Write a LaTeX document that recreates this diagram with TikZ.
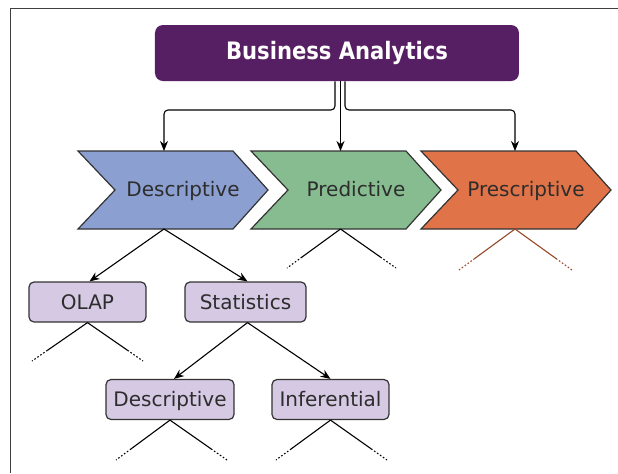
\documentclass[tikz,border=0pt]{standalone}
\usepackage{fontspec}
\setmainfont{DejaVu Sans}
\newfontfamily\headfont[FakeStretch=0.88]{DejaVu Sans}
\usetikzlibrary{calc, arrows.meta}
\definecolor{bapurple}{RGB}{87,31,99}
\definecolor{chevblue}{RGB}{139,159,208}
\definecolor{chevgreen}{RGB}{134,188,143}
\definecolor{chevorange}{RGB}{224,115,71}
\definecolor{presline}{RGB}{150,72,38}
\definecolor{lilac}{RGB}{213,201,227}
\definecolor{txtgray}{RGB}{45,45,45}
\tikzset{frame/.style={draw=black!75, line width=0.8pt}}
\tikzset{topbox/.style={fill=bapurple, rounded corners=4pt, minimum width=182pt, minimum height=28pt, text=white, font=\headfont\bfseries\fontsize{12}{14}\selectfont}}
\tikzset{arr/.style={draw, -{Stealth[length=5pt, width=4pt]}, line width=0.55pt}}
\tikzset{chev/.style={draw=black!80, line width=0.6pt}}
\tikzset{chevtext/.style={text=txtgray, text height=7.3pt, text depth=2pt, inner sep=0pt, font=\fontsize{10}{12}\selectfont}}
\tikzset{lilbox/.style={draw=black!80, line width=0.6pt, rounded corners=2.5pt, fill=lilac, text=txtgray, minimum height=20pt, inner sep=0pt, text height=7.3pt, text depth=0pt, font=\fontsize{10}{12}\selectfont}}
\tikzset{fade/.style={line width=0.55pt}}
% chevron: name, left edge, fill, text, x of top/bottom joint
\newcommand{\drawchevron}[5]{%
    \filldraw[chev, fill=#3] (#2,151) -- ++(155,0) -- ++(35,39) -- ++(-35,39)
        -- ++(-155,0) -- ++(37,-39) -- cycle;
    \node[chevtext] (#1) at (#2+105,191) {#4};
    \coordinate (#1-top) at (#5,151);
    \coordinate (#1-bot) at (#5,229);}
% line that runs out into dots
\newcommand{\fadeto}[3][black]{%
    \draw[fade, #1] (#2) -- ($(#2)!0.72!(#3)$);
    \draw[fade, #1, dash pattern=on 0.8pt off 1pt] ($(#2)!0.72!(#3)$) -- (#3);}

\begin{document}
\begin{tikzpicture}[x=0.5pt, y=-0.5pt]
    \useasboundingbox (0,0) rectangle (618,473);
    \draw[frame] (618,8.5) -- (10.5,8.5) -- (10.5,473);

    \node[topbox] (ba) at (337,53) {Business Analytics};

    \drawchevron{desc}{78}{chevblue}{Descriptive}{164}
    \drawchevron{pred}{251}{chevgreen}{Predictive}{340.5}
    \drawchevron{presc}{421}{chevorange}{Prescriptive}{515}

    \coordinate (split) at (0,110);
    \draw[arr, rounded corners=2pt] ([xshift=-1pt]ba.south) |- (split -| desc-top) -- (desc-top);
    \draw[arr] (ba.south -| pred-top) -- (pred-top);
    \draw[arr, rounded corners=2pt] ([xshift=4pt]ba.south) |- (split -| presc-top) -- (presc-top);

    \node[lilbox, minimum width=58.5pt] (olap) at (87.5,302) {OLAP};
    \node[lilbox, minimum width=60.5pt] (stats) at (245.5,302) {Statistics};
    \node[lilbox, minimum width=64pt] (ldesc) at (170,399.5) {Descriptive};
    \node[lilbox, minimum width=58.5pt] (infer) at (330.5,399.5) {Inferential};

    \draw[arr] (desc-bot) -- ([xshift=1pt]olap.north);
    \draw[arr] (desc-bot) -- ([xshift=1pt]stats.north);
    \draw[arr] ([xshift=1pt]stats.south) -- ([xshift=2pt]ldesc.north);
    \draw[arr] ([xshift=1pt]stats.south) -- (infer.north);

    % loose ends
    \coordinate (pred-l) at (287,268);
    \coordinate (pred-r) at (396,268);
    \coordinate (presc-l) at (459,270);
    \coordinate (presc-r) at (572,270);
    \coordinate (olap-l) at (32,361);
    \coordinate (olap-r) at (143,361);
    \coordinate (ldesc-l) at (116,460);
    \coordinate (ldesc-r) at (227,460);
    \coordinate (infer-l) at (276,460);
    \coordinate (infer-r) at (387,460);

    \fadeto{pred-bot}{pred-l}
    \fadeto{pred-bot}{pred-r}
    \fadeto[presline]{presc-bot}{presc-l}
    \fadeto[presline]{presc-bot}{presc-r}
    \fadeto{olap.south}{olap-l}
    \fadeto{olap.south}{olap-r}
    \fadeto{ldesc.south}{ldesc-l}
    \fadeto{ldesc.south}{ldesc-r}
    \fadeto{infer.south}{infer-l}
    \fadeto{infer.south}{infer-r}
\end{tikzpicture}
\end{document}
